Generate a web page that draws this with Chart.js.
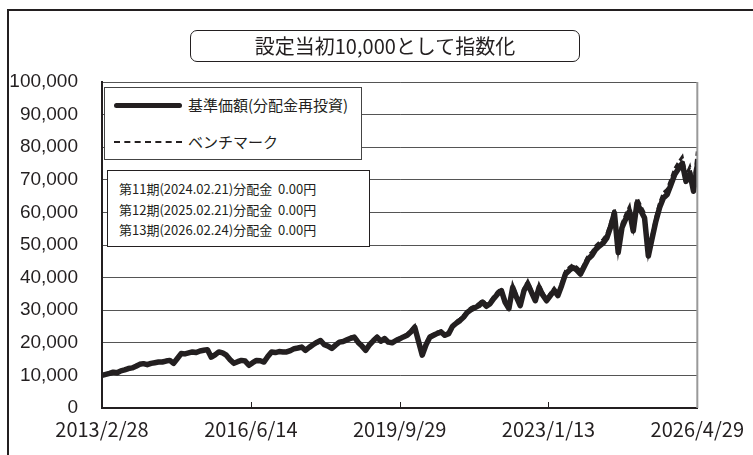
<!DOCTYPE html>
<html>
<head>
<meta charset="utf-8">
<script src="https://cdn.jsdelivr.net/npm/chart.js@4/dist/chart.umd.min.js"></script>
<style>
  html, body { margin: 0; padding: 0; background: #fff; overflow: hidden; }
  body { width: 753px; height: 455px; position: relative; font-family: "Noto Sans CJK JP", sans-serif; color: #231f20; }
  .frame { position: absolute; left: 7px; top: 9px; width: 800px; height: 500px; border: 2px solid #231f20; }
  #wrap { position: absolute; left: 0; top: 0; width: 753px; height: 455px; }
  .title { position: absolute; left: 190px; top: 30px; width: 388px; height: 30px; border: 1.5px solid #231f20;
    border-radius: 7px; background: #fff; text-align: center; font-size: 20px; line-height: 30px; }
  .legend { position: absolute; left: 104px; top: 87px; width: 256px; height: 71px; border: 1.5px solid #444;
    background: #fff; font-size: 15px; }
  .legend .row { position: absolute; left: 9px; height: 20px; line-height: 20px; }
  .legend .sample { position: absolute; left: 0; width: 68px; }
  .legend .txt { position: absolute; left: 74px; white-space: nowrap; }
  .notes { position: absolute; left: 107px; top: 170px; width: 261px; height: 75px; border: 1px solid #231f20;
    background: #fff; font-size: 13px; }
  .notes div { position: absolute; left: 11px; white-space: nowrap; line-height: 16px; }
</style>
</head>
<body>
<div class="frame"></div>
<div id="wrap"><canvas id="myChart" width="753" height="455"></canvas></div>
<div class="title" id="title"></div>
<div class="legend" id="legend"></div>
<div class="notes" id="notes"></div>
<script>
// monthly values, 2013/2/28 .. 2026/4/29
const fund = [
  10000, 10300, 10600, 11000, 10800, 11400, 11700, 12100, 12300, 12800,
  13400, 13600, 13300, 13700, 13900, 14100, 14100, 14400, 14600, 13700,
  15200, 16700, 16600, 16900, 17200, 17000, 17500, 17700, 17900, 15600,
  16300, 17200, 16900, 16200, 14800, 13700, 14200, 14600, 14400, 13100,
  13900, 14600, 14500, 14100, 15800, 17200, 17000, 17300, 17200, 17200,
  17600, 18200, 18400, 18700, 17700, 18600, 19400, 20100, 20700, 19400,
  19000, 18300, 19300, 20200, 20400, 20900, 21400, 21700, 20100, 19000,
  17700, 19400, 20600, 21700, 20500, 21300, 20200, 20000, 20700, 21200,
  21800, 22300, 23400, 24800, 20500, 16200, 19400, 21700, 22300, 22900,
  23300, 22300, 22800, 25000, 26000, 26800, 27900, 29400, 30200, 30800,
  31400, 32500, 31200, 32000, 33600, 35000, 36000, 32400, 30500, 37000,
  34000, 31400, 36000, 38100, 35500, 32900, 37000, 34600, 32900, 34500,
  36000, 34500, 37600, 41100, 42200, 43100, 42300, 41100, 43400, 45700,
  46800, 48600, 49700, 50600, 52200, 55600, 59800, 47700, 55300, 58000,
  60400, 54300, 62900, 60500, 58300, 46600, 52000, 57300, 61500, 64400,
  65500, 68500, 71600, 73400, 75100, 69500, 72000, 66500, 74500
];
const benchmark = [
  10000, 10300, 10600, 11000, 10800, 11400, 11700, 12100, 12300, 12800,
  13400, 13600, 13300, 13700, 13900, 14100, 14100, 14400, 14700, 13800,
  15300, 16800, 16700, 17000, 17300, 17100, 17600, 17800, 18000, 15700,
  16400, 17300, 17000, 16300, 14900, 13800, 14300, 14700, 14500, 13200,
  14000, 14700, 14600, 14200, 15900, 17300, 17100, 17400, 17400, 17400,
  17800, 18400, 18600, 18900, 17900, 18800, 19600, 20300, 20900, 19600,
  19200, 18500, 19500, 20400, 20600, 21100, 21700, 22000, 20400, 19300,
  18000, 19700, 20900, 22000, 20800, 21600, 20500, 20300, 21000, 21500,
  22100, 22700, 23800, 25200, 20900, 16500, 19800, 22100, 22700, 23300,
  23700, 22700, 23200, 25400, 26500, 27300, 28400, 29900, 30800, 31400,
  32000, 33100, 31800, 32600, 34300, 35700, 36700, 33000, 31100, 37700,
  34700, 32000, 36700, 38900, 36200, 33600, 37800, 35300, 33600, 35200,
  36800, 35200, 38400, 42000, 43100, 44000, 43200, 42000, 44300, 46700,
  47800, 49700, 50800, 51700, 53400, 56900, 61200, 48800, 56600, 59400,
  61800, 55600, 64400, 62000, 59700, 47700, 53300, 58700, 63000, 66000,
  67100, 70200, 73400, 75300, 77000, 71300, 73900, 68300, 78700
];
const tickLabels = ["2013/2/28", "2016/6/14", "2019/9/29", "2023/1/13", "2026/4/29"];
const seriesNames = ["基準価額(分配金再投資)", "ベンチマーク"];
const titleText = "設定当初10,000として指数化";
const notes = [
  "第11期(2024.02.21)分配金\u00a0\u00a00.00円",
  "第12期(2025.02.21)分配金\u00a0\u00a00.00円",
  "第13期(2026.02.24)分配金\u00a0\u00a00.00円"
];

const ink = "#231f20";
const last = fund.length - 1;

//boxes
document.getElementById("title").textContent = titleText;
let legend = document.getElementById("legend");
seriesNames.forEach(function(name, i) {
  let row = document.createElement("div");
  row.className = "row";
  row.style.top = (i === 0 ? 7 : 44) + "px";
  let sample = document.createElement("div");
  sample.className = "sample";
  if (i === 0) {
    sample.style.top = "8px";
    sample.style.borderTop = "5px solid " + ink;
    sample.style.borderRadius = "3px";
  } else {
    sample.style.top = "9px";
    sample.style.borderTop = "2px dashed " + ink;
  }
  let txt = document.createElement("div");
  txt.className = "txt";
  txt.textContent = name;
  row.append(sample);
  row.append(txt);
  legend.append(row);
});
let notesBox = document.getElementById("notes");
notes.forEach(function(line, i) {
  let d = document.createElement("div");
  d.style.top = (10 + i * 20.5) + "px";
  d.textContent = line;
  notesBox.append(d);
});

// inner tick marks + gray right border
const frameLines = {
  id: "frameLines",
  afterDatasetsDraw(chart) {
    const ctx = chart.ctx;
    const a = chart.chartArea;
    const xs = chart.scales.x;
    ctx.save();
    ctx.strokeStyle = "#999";
    ctx.lineWidth = 2;
    ctx.beginPath();
    ctx.moveTo(a.right, a.top);
    ctx.lineTo(a.right, a.bottom);
    ctx.stroke();
    ctx.strokeStyle = ink;
    ctx.lineWidth = 1;
    xs.ticks.forEach(function(t, i) {
      if (i === 0 || i === xs.ticks.length - 1) return;
      const px = Math.round(xs.getPixelForValue(t.value)) + 0.5;
      ctx.beginPath();
      ctx.moveTo(px, a.bottom);
      ctx.lineTo(px, a.bottom - 6);
      ctx.stroke();
    });
    ctx.restore();
  }
};

const ctx = document.getElementById("myChart").getContext("2d");
const chart = new Chart(ctx, {
  type: "line",
  data: {
    datasets: [
      {
        label: seriesNames[0],
        data: fund.map((v, i) => ({ x: i, y: v })),
        borderColor: ink,
        borderWidth: 5.5,
        borderJoinStyle: "round",
        borderCapStyle: "round",
        pointRadius: 0,
        tension: 0
      },
      {
        label: seriesNames[1],
        data: benchmark.map((v, i) => ({ x: i, y: v })),
        borderColor: ink,
        borderWidth: 3,
        borderDash: [6, 3],
        pointRadius: 0,
        tension: 0
      }
    ]
  },
  options: {
    responsive: false,
    animation: false,
    events: [],
    layout: { padding: { left: 0, right: 51, top: 82, bottom: 0 } },
    plugins: { legend: { display: false }, tooltip: { enabled: false } },
    scales: {
      x: {
        type: "linear",
        min: 0,
        max: last,
        afterBuildTicks(scale) {
          scale.ticks = tickLabels.map((l, i) => ({ value: (last * i) / (tickLabels.length - 1) }));
        },
        afterFit(scale) { scale.height = 47; },
        grid: { display: false, drawTicks: false },
        border: { display: true, color: ink, width: 2 },
        ticks: {
          padding: 9,
          maxRotation: 0,
          autoSkip: false,
          color: ink,
          font: { family: "'Noto Sans CJK JP'", size: 20 },
          callback: (v, i) => tickLabels[i]
        }
      },
      y: {
        min: 0,
        max: 100000,
        afterFit(scale) { scale.width = 102; },
        grid: { color: "#555", lineWidth: 1, drawTicks: false },
        border: { display: true, color: ink, width: 2 },
        ticks: {
          stepSize: 10000,
          padding: 24,
          color: ink,
          font: { family: "'Liberation Sans', Arial, sans-serif", size: 19 },
          callback: v => v.toLocaleString("en-US")
        }
      }
    }
  },
  plugins: [frameLines]
});
</script>
</body>
</html>
